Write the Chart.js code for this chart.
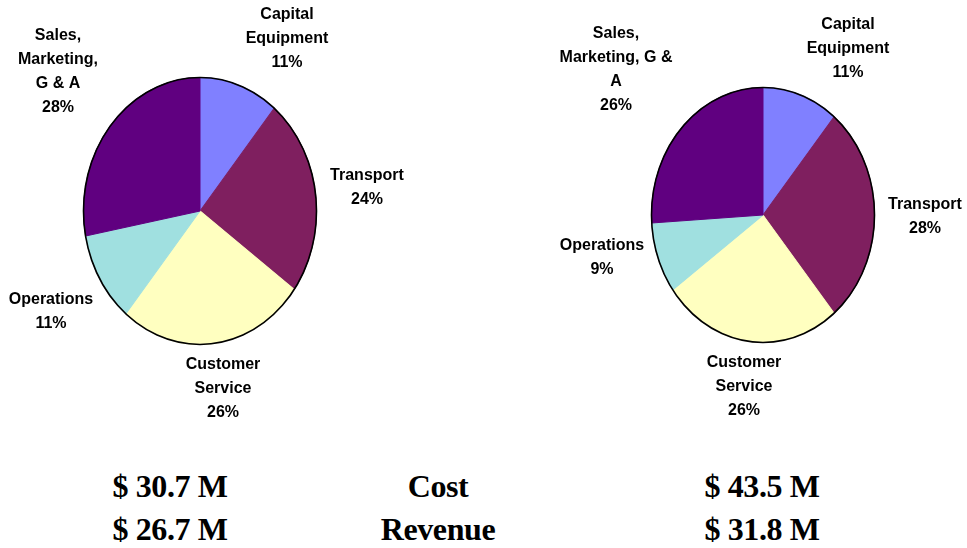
<!DOCTYPE html>
<html>
<head>
<meta charset="utf-8">
<script src="https://cdn.jsdelivr.net/npm/chart.js@4.4.1/dist/chart.umd.min.js"></script>
<style>
  html, body { margin: 0; padding: 0; background: #fff; }
  #wrap { position: relative; width: 967px; height: 548px; overflow: hidden; }
  canvas { position: absolute; top: 0; }
  .fig { position: absolute; font-family: "Liberation Serif", "Times New Roman", serif; font-weight: bold;
         font-size: 32px; letter-spacing: -0.4px; transform: translate(-50%, -50%); white-space: nowrap; color: #000; }
</style>
</head>
<body>
<div id="wrap">
  <canvas id="pieLeft" width="480" height="440" style="left:0"></canvas>
  <canvas id="pieRight" width="487" height="440" style="left:480px"></canvas>
</div>
<script>
const categories = ['Capital Equipment', 'Transport', 'Customer Service', 'Operations', 'Sales, Marketing, G & A'];
const colors = ['#8080ff', '#7f1f5f', '#ffffc0', '#a0e0e0', '#600080'];
const leftShares = [11, 24, 26, 11, 28];
const rightShares = [11, 28, 26, 9, 26];
const rowNames = ['Cost', 'Revenue'];
const leftTotals = [30.7, 26.7];   // $ M
const rightTotals = [43.5, 31.8];  // $ M

// label block centre relative to pie centre, plus wrap width
const leftLabelLayout = [
  { dx: 87, dy: -172, wrap: 90 },
  { dx: 167, dy: -23, wrap: 90 },
  { dx: 23, dy: 178, wrap: 90 },
  { dx: -149, dy: 101, wrap: 90 },
  { dx: -142, dy: -139, wrap: 85 }
];
const rightLabelLayout = [
  { dx: 85, dy: -166, wrap: 90 },
  { dx: 162, dy: 2, wrap: 90 },
  { dx: -19, dy: 172, wrap: 90 },
  { dx: -161, dy: 43, wrap: 90 },
  { dx: -147, dy: -145, wrap: 125 }
];

function wrapText(ctx, text, maxW) {
  const words = text.split(' ');
  const lines = [];
  let cur = '';
  words.forEach(w => {
    const test = cur ? cur + ' ' + w : w;
    if (cur && ctx.measureText(test).width > maxW) { lines.push(cur); cur = w; }
    else cur = test;
  });
  if (cur) lines.push(cur);
  return lines;
}

// squash the round pie into the tall ellipse of the original
const ellipsePie = {
  id: 'ellipsePie',
  beforeDatasetsDraw(chart) {
    const a = chart.chartArea, ctx = chart.ctx;
    const cx = (a.left + a.right) / 2, cy = (a.top + a.bottom) / 2;
    ctx.save();
    ctx.translate(cx, cy);
    ctx.scale(1, a.height / a.width);
    ctx.translate(-cx, -cy);
  },
  afterDatasetsDraw(chart) {
    const ctx = chart.ctx;
    ctx.restore();
    const arc = chart.getDatasetMeta(0).data[0];
    const a = chart.chartArea;
    const rx = arc.outerRadius, ry = arc.outerRadius * a.height / a.width;
    ctx.save();
    ctx.beginPath();
    ctx.ellipse(arc.x, arc.y, rx, ry, 0, 0, Math.PI * 2);
    ctx.lineWidth = 1.6;
    ctx.strokeStyle = '#000';
    ctx.stroke();
    ctx.restore();
  },
  afterDraw(chart, args, opts) {
    const ctx = chart.ctx;
    const arc = chart.getDatasetMeta(0).data[0];
    const values = chart.data.datasets[0].data;
    ctx.save();
    ctx.font = 'bold 16px "Liberation Sans", Arial, sans-serif';
    ctx.fillStyle = '#000';
    ctx.textAlign = 'center';
    ctx.textBaseline = 'middle';
    chart.data.labels.forEach((name, i) => {
      const lay = opts.layout[i];
      const lines = wrapText(ctx, name, lay.wrap);
      lines.push(values[i] + '%');
      const lh = 24;
      const y0 = arc.y + lay.dy - (lines.length - 1) * lh / 2;
      lines.forEach((ln, j) => ctx.fillText(ln, arc.x + lay.dx, y0 + j * lh));
    });
    ctx.restore();
  }
};

function makePie(id, shares, padding, layout) {
  return new Chart(document.getElementById(id), {
    type: 'pie',
    data: {
      labels: categories,
      datasets: [{
        data: shares,
        backgroundColor: colors,
        borderColor: colors,
        borderWidth: 1
      }]
    },
    options: {
      responsive: false,
      animation: false,
      devicePixelRatio: 1,
      layout: { padding: padding },
      plugins: {
        legend: { display: false },
        tooltip: { enabled: false },
        ellipsePie: { layout: layout }
      }
    },
    plugins: [ellipsePie]
  });
}

makePie('pieLeft', leftShares, { left: 83, right: 163, top: 77, bottom: 95 }, leftLabelLayout);
makePie('pieRight', rightShares, { left: 171, right: 92, top: 87, bottom: 97 }, rightLabelLayout);

// totals underneath
const wrap = document.getElementById('wrap');
const colX = [170, 438, 762];
const rowY = [486, 529];
rowNames.forEach((name, r) => {
  const cells = ['$ ' + leftTotals[r].toFixed(1) + ' M', name, '$ ' + rightTotals[r].toFixed(1) + ' M'];
  cells.forEach((txt, c) => {
    const d = document.createElement('div');
    d.className = 'fig';
    d.textContent = txt;
    d.style.left = colX[c] + 'px';
    d.style.top = rowY[r] + 'px';
    wrap.appendChild(d);
  });
});
</script>
</body>
</html>
